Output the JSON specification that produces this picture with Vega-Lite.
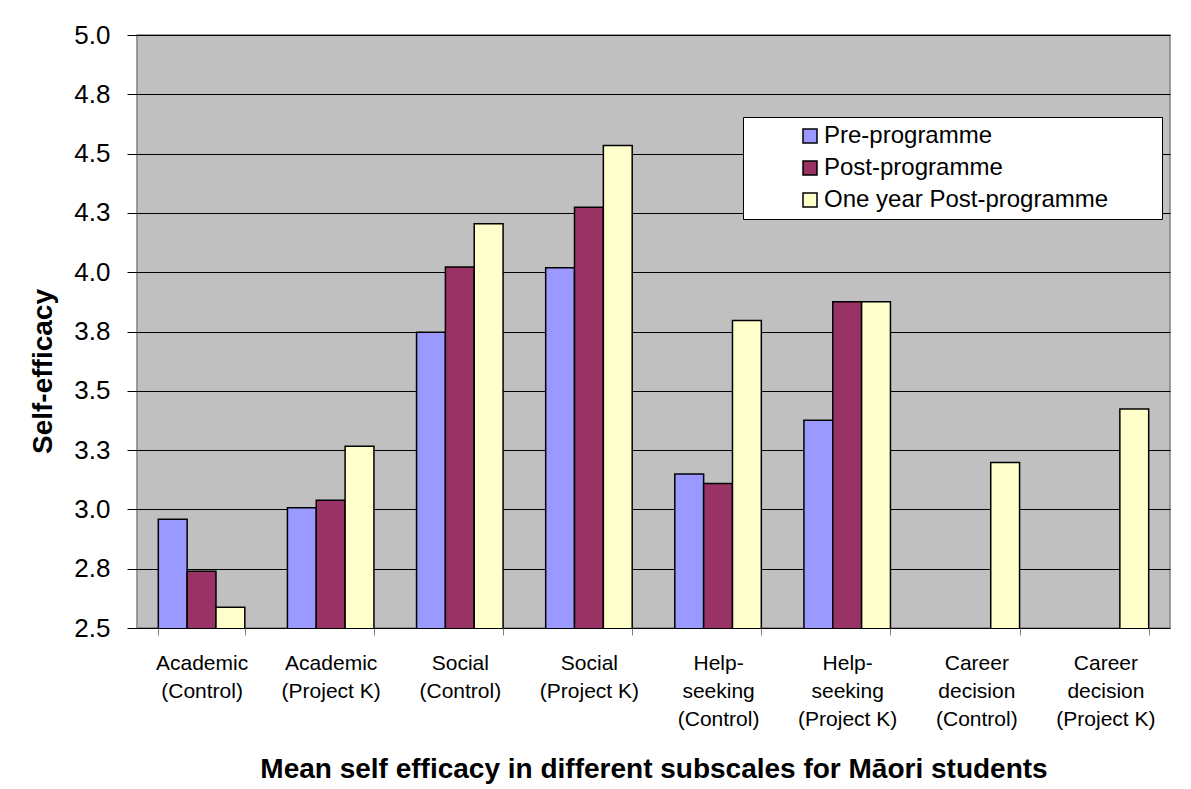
{
  "$schema": "https://vega.github.io/schema/vega-lite/v6.json",
  "width": 1033,
  "height": 593,
  "autosize": {"type": "none"},
  "padding": {"left": 137, "top": 35, "right": 21, "bottom": 161},
  "background": "white",
  "config": {
    "font": "Liberation Sans",
    "view": {"fill": "#C0C0C0", "stroke": "#808080", "strokeWidth": 1.5}
  },
  "data": {
    "values": [
      {"subscale": "Academic (Control)", "time": "Pre-programme", "value": 2.958},
      {"subscale": "Academic (Control)", "time": "Post-programme", "value": 2.739},
      {"subscale": "Academic (Control)", "time": "One year Post-programme", "value": 2.588},
      {"subscale": "Academic (Project K)", "time": "Pre-programme", "value": 3.007},
      {"subscale": "Academic (Project K)", "time": "Post-programme", "value": 3.039},
      {"subscale": "Academic (Project K)", "time": "One year Post-programme", "value": 3.266},
      {"subscale": "Social (Control)", "time": "Pre-programme", "value": 3.747},
      {"subscale": "Social (Control)", "time": "Post-programme", "value": 4.022},
      {"subscale": "Social (Control)", "time": "One year Post-programme", "value": 4.204},
      {"subscale": "Social (Project K)", "time": "Pre-programme", "value": 4.019},
      {"subscale": "Social (Project K)", "time": "Post-programme", "value": 4.274},
      {"subscale": "Social (Project K)", "time": "One year Post-programme", "value": 4.534},
      {"subscale": "Help-seeking (Control)", "time": "Pre-programme", "value": 3.149},
      {"subscale": "Help-seeking (Control)", "time": "Post-programme", "value": 3.109},
      {"subscale": "Help-seeking (Control)", "time": "One year Post-programme", "value": 3.796},
      {"subscale": "Help-seeking (Project K)", "time": "Pre-programme", "value": 3.376},
      {"subscale": "Help-seeking (Project K)", "time": "Post-programme", "value": 3.875},
      {"subscale": "Help-seeking (Project K)", "time": "One year Post-programme", "value": 3.875},
      {"subscale": "Career decision (Control)", "time": "One year Post-programme", "value": 3.198},
      {"subscale": "Career decision (Project K)", "time": "One year Post-programme", "value": 3.423}
    ]
  },
  "mark": {"type": "bar", "stroke": "black", "strokeWidth": 1.5, "clip": true},
  "encoding": {
    "x": {
      "field": "subscale",
      "type": "nominal",
      "sort": null,
      "scale": {"paddingInner": 0.33, "paddingOuter": 0.165},
      "axis": {
        "title": "Mean self efficacy in different subscales for Māori students",
        "titleFontSize": 28,
        "titleFontWeight": "bold",
        "titleColor": "black",
        "titlePadding": 26,
        "labelAngle": 0,
        "labelFontSize": 21,
        "labelColor": "black",
        "labelLineHeight": 28,
        "labelPadding": 17,
        "labelBaseline": "top",
        "labelLimit": 300,
        "labelExpr": "isValid(datum.value) ? split(replace(replace(replace(datum.value, ' (', '|('), 'Help-', 'Help-|'), 'Career ', 'Career|'), '|') : ''",
        "tickBand": "extent",
        "tickSize": 7,
        "tickColor": "#808080",
        "domain": false,
        "grid": false
      }
    },
    "xOffset": {
      "field": "time",
      "type": "nominal",
      "scale": {"domain": ["Pre-programme", "Post-programme", "One year Post-programme"]}
    },
    "y": {
      "field": "value",
      "type": "quantitative",
      "scale": {"domain": [2.5, 5], "zero": false, "nice": false},
      "axis": {
        "title": "Self-efficacy",
        "titleFontSize": 28,
        "titleFontWeight": "bold",
        "titleColor": "black",
        "titlePadding": 16,
        "titleY": 336,
        "values": [2.5, 2.75, 3, 3.25, 3.5, 3.75, 4, 4.25, 4.5, 4.75, 5],
        "format": ".1f",
        "labelFontSize": 26,
        "labelColor": "black",
        "labelPadding": 17,
        "tickSize": 10,
        "tickColor": "black",
        "domain": false,
        "grid": true,
        "gridColor": "black",
        "gridWidth": 1.2,
        "gridOpacity": 1
      }
    },
    "color": {
      "field": "time",
      "type": "nominal",
      "scale": {"domain": ["Pre-programme", "Post-programme", "One year Post-programme"], "range": ["#9999FF", "#993366", "#FFFFCC"]},
      "legend": {
        "title": null,
        "orient": "none",
        "legendX": 606,
        "legendY": 82,
        "fillColor": "white",
        "strokeColor": "black",
        "padding": 7,
        "symbolType": "square",
        "symbolSize": 196,
        "symbolStrokeColor": "black",
        "symbolStrokeWidth": 1.5,
        "symbolOffset": 48,
        "labelOffset": 2,
        "labelFontSize": 24,
        "labelColor": "black",
        "labelLimit": 800,
        "rowPadding": 8,
        "labelExpr": "datum.label + '\u00a0\u00a0\u00a0\u00a0\u00a0\u00a0\u00a0\u200b'"
      }
    }
  }
}
